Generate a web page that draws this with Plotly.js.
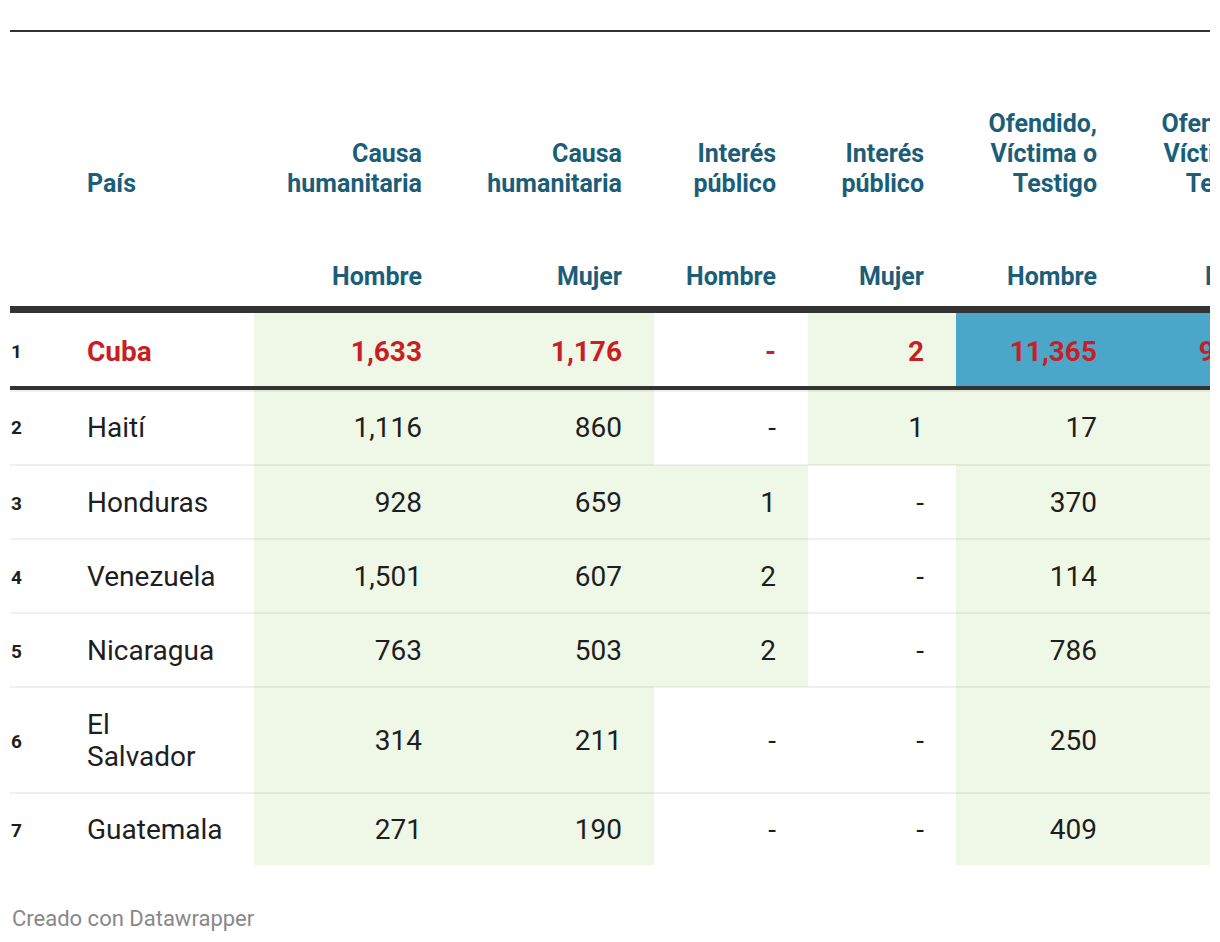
<!DOCTYPE html>
<html><head><meta charset="utf-8">
<script src="https://cdn.plot.ly/plotly-3.0.1.min.js"></script>
<style>html,body{margin:0;padding:0;background:#fff;overflow:hidden}#chart{width:1220px;height:942px}</style>
</head><body><div id="chart"></div><script>
// ---------- data ----------
const ranks = [1, 2, 3, 4, 5, 6, 7];
const paises = ['Cuba', 'Haití', 'Honduras', 'Venezuela', 'Nicaragua', 'El Salvador', 'Guatemala'];
const paisHeader = 'País';
const headerGroups = ['Causa<br>humanitaria', 'Causa<br>humanitaria', 'Interés<br>público', 'Interés<br>público', 'Ofendido,<br>Víctima o<br>Testigo', 'Ofendido,<br>Víctima o<br>Testigo'];
const headerSexo = ['Hombre', 'Mujer', 'Hombre', 'Mujer', 'Hombre', 'Mujer'];
const causaHombre = [1633, 1116, 928, 1501, 763, 314, 271];
const causaMujer = [1176, 860, 659, 607, 503, 211, 190];
const interesHombre = [0, 0, 1, 2, 2, 0, 0];
const interesMujer = [2, 1, 0, 0, 0, 0, 0];
const ofendidoHombre = [11365, 17, 370, 114, 786, 250, 409];
const ofendidoMujer = [9214, 14, 305, 98, 701, 226, 362]; // column is cut off in the reference; estimates
const highlightPais = 'Cuba';
const footerText = 'Creado con Datawrapper';

// ---------- layout constants ----------
const W = 1220, H = 942;
const colEdges = [254, 454, 654, 808, 956, 1129, 1302];
const rowEdges = [313, 388, 465, 539, 613, 687, 793, 865];
const padR = 32, paisX = 87, rankX = 11;
const headBottomY = 183, headLineH = 30, sexoY = 276;
const bodyLineH = 32;
const TEXT_DY = 3; // optical centring of text in cells
const HEAD = '#1b5e78', RED = '#c71f26', INK = '#1e1e1e';
const GREEN = '#eff7e6', BLUE = '#4ba7c9';
const FONT = 'Roboto, "Open Sans", sans-serif';

const columns = [causaHombre, causaMujer, interesHombre, interesMujer, ofendidoHombre, ofendidoMujer];
const fmt = v => v === 0 ? '-' : v.toLocaleString('en-US');
const cat = v => v === 0 ? 0 : (v >= 5000 ? 2 : 1);

// heatmap background
const z = paises.map((p, r) => columns.map(col => cat(col[r])));
const traces = [{
  type: 'heatmap', x: colEdges, y: rowEdges, z: z, zmin: 0, zmax: 2,
  colorscale: [[0, '#ffffff'], [0.33, '#ffffff'], [0.34, GREEN], [0.66, GREEN], [0.67, BLUE], [1, BLUE]],
  showscale: false, hoverinfo: 'skip', xgap: 0, ygap: 0
}];

// text helper: splits <br> lines and places each line
function addText(items, pos, size, color, weight) {
  const xs = [], ys = [], ts = [];
  items.forEach(it => {
    const lines = String(it.t).split('<br>');
    const n = lines.length;
    lines.forEach((ln, i) => {
      xs.push(it.x);
      if (it.bottom !== undefined) ys.push(it.bottom - it.lh * (n - 1 - i) + TEXT_DY);
      else ys.push(it.y + (i - (n - 1) / 2) * it.lh + TEXT_DY);
      ts.push(ln);
    });
  });
  traces.push({
    type: 'scatter', mode: 'text', x: xs, y: ys, text: ts, textposition: pos,
    textfont: { family: FONT, size: size, color: color, weight: weight },
    hoverinfo: 'skip', cliponaxis: true
  });
}

const rowMid = r => (rowEdges[r] + rowEdges[r + 1]) / 2;
const colRight = c => colEdges[c + 1] - padR;

// headers
addText([{ x: paisX, bottom: headBottomY, lh: headLineH, t: paisHeader }], 'middle right', 25, HEAD, 700);
addText(headerGroups.map((h, c) => ({ x: colRight(c), bottom: headBottomY, lh: headLineH, t: h })), 'middle left', 25, HEAD, 700);
addText(headerSexo.map((h, c) => ({ x: colRight(c), y: sexoY, lh: headLineH, t: h })), 'middle left', 25, HEAD, 700);

// ranks
addText(ranks.map((k, r) => ({ x: rankX, y: rowMid(r), lh: bodyLineH, t: String(k) })), 'middle right', 19, INK, 700);

// country names & values
const hl = paises.map(p => p === highlightPais);
const nameItems = (flag) => paises.map((p, r) => ({ p, r })).filter(o => hl[o.r] === flag)
  .map(o => ({ x: paisX, y: rowMid(o.r), lh: bodyLineH, t: o.p.replace(' ', '<br>') }));
const valItems = (flag) => {
  const out = [];
  paises.forEach((p, r) => {
    if (hl[r] !== flag) return;
    columns.forEach((col, c) => out.push({ x: colRight(c), y: rowMid(r), lh: bodyLineH, t: fmt(col[r]) }));
  });
  return out;
};
addText(nameItems(false), 'middle right', 28, INK, 400);
addText(nameItems(true), 'middle right', 28, RED, 700);
addText(valItems(false), 'middle left', 28, INK, 400);
addText(valItems(true), 'middle left', 28, RED, 700);

// shapes: rules
const shapes = [
  { type: 'line', x0: 10, x1: 1210, y0: 31, y1: 31, line: { color: '#333', width: 2 } },
  { type: 'rect', x0: 10, x1: 1210, y0: 306, y1: 313, fillcolor: '#333', line: { width: 0 } },
];
paises.forEach((p, r) => {
  if (r === paises.length - 1) return;
  const yb = rowEdges[r + 1];
  if (hl[r]) {
    shapes.push({ type: 'rect', x0: 10, x1: 1210, y0: yb - 2, y1: yb + 2, fillcolor: '#333', line: { width: 0 } });
    shapes.push({ type: 'line', x0: 10, x1: 1210, y0: yb + 3, y1: yb + 3, line: { color: 'rgba(0,0,0,0.08)', width: 1.5 } });
  } else {
    shapes.push({ type: 'line', x0: 10, x1: 1210, y0: yb, y1: yb, line: { color: 'rgba(0,0,0,0.08)', width: 1.5 } });
  }
});

const layout = {
  width: W, height: H, margin: { l: 10, r: 10, t: 0, b: 0, pad: 0 },
  paper_bgcolor: '#fff', plot_bgcolor: '#fff', showlegend: false,
  xaxis: { range: [10, 1210], visible: false, fixedrange: true },
  yaxis: { range: [H, 0], visible: false, fixedrange: true },
  shapes: shapes,
  annotations: [{ x: 10, y: 918, xref: 'x', yref: 'y', xanchor: 'left', yanchor: 'middle', showarrow: false,
    text: footerText, font: { family: FONT, size: 22, color: '#888888' } }]
};
Plotly.newPlot('chart', traces, layout, { staticPlot: true, displayModeBar: false });
</script></body></html>
